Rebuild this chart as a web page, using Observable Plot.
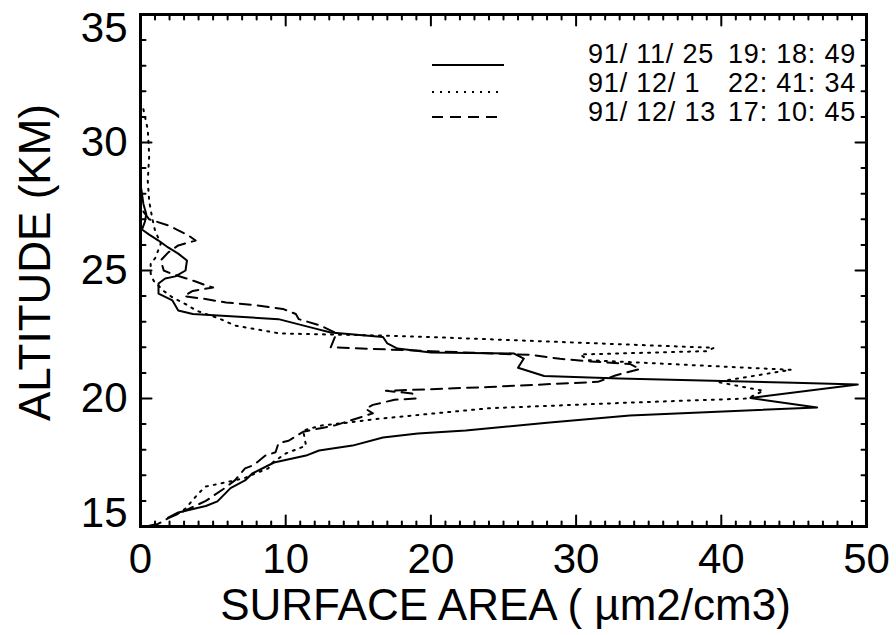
<!DOCTYPE html>
<html><head><meta charset="utf-8">
<script src="https://cdn.jsdelivr.net/npm/d3@7"></script>
<script src="https://cdn.jsdelivr.net/npm/@observablehq/plot@0.6"></script>
<style>body{margin:0;background:#fff;} svg{display:block}</style>
</head><body><div id="chart"></div>
<script>
// [surface area (µm2/cm3), altitude (km)], ordered from top to bottom of each profile
const profile_911125 = [[0.05,28.2],[0.2,27.6],[0.4,27.2],[0.3,26.9],[0.1,26.6],[0.6,26.4],[1.24,26.17],[1.9,25.9],[2.6,25.66],[3.2,25.39],[3.1,25.0],[2.4,24.77],[1.7,24.69],[1.24,24.49],[1.24,24.1],[2.2,23.83],[2.6,23.44],[3.6,23.3],[9.5,23.1],[12.05,22.73],[13.1,22.58],[16.7,22.4],[17.0,22.15],[17.7,21.95],[20.0,21.8],[25.7,21.76],[26.4,21.56],[26.0,21.2],[27.8,20.88],[33.0,20.78],[45.0,20.62],[49.4,20.55],[42.0,20.02],[46.6,19.65],[33.7,19.34],[28.0,19.05],[22.4,18.75],[19.1,18.63],[16.7,18.48],[14.6,18.16],[12.3,17.97],[11.4,17.77],[9.2,17.5],[7.7,17.07],[7.2,16.8],[6.2,16.5],[5.3,15.98],[4.5,15.8],[2.6,15.55],[1.9,15.35]];
const profile_911201 = [[0.2,31.3],[0.5,30.5],[0.6,29.5],[0.5,28.5],[0.6,27.7],[0.8,27.07],[1.0,26.56],[1.4,26.05],[1.0,25.47],[0.7,25.27],[0.7,24.88],[0.9,24.6],[1.6,24.2],[2.2,23.95],[3.3,23.63],[3.8,23.44],[5.4,23.13],[6.5,22.85],[8.4,22.66],[9.6,22.54],[16.5,22.46],[20.0,22.4],[39.5,21.98],[39.0,21.85],[30.3,21.72],[30.8,21.5],[44.8,21.12],[39.7,20.65],[42.9,20.3],[41.8,20.0],[33.7,19.84],[24.0,19.62],[16.2,19.2],[14.3,19.06],[12.5,18.95],[11.2,18.75],[11.4,18.16],[10.0,17.85],[9.1,17.5],[8.8,17.27],[7.9,17.07],[7.2,16.9],[6.5,16.8],[4.5,16.56],[4.0,16.3],[3.1,15.7],[2.2,15.35]];
const profile_911213 = [[0.2,27.3],[0.6,27.0],[1.9,26.76],[2.5,26.6],[3.3,26.37],[3.8,26.17],[2.6,25.98],[1.9,25.7],[1.4,25.4],[1.6,25.0],[2.1,24.88],[3.1,24.7],[3.8,24.57],[4.6,24.4],[5.0,24.34],[3.6,24.2],[3.0,24.0],[4.3,23.9],[5.9,23.75],[7.8,23.65],[9.8,23.5],[10.7,23.3],[10.9,23.1],[12.4,22.85],[13.5,22.55],[13.1,22.0],[14.5,21.97],[20.0,21.85],[27.0,21.7],[28.9,21.55],[31.0,21.45],[33.7,21.35],[34.4,21.15],[32.7,20.9],[31.5,20.65],[24.0,20.45],[16.9,20.3],[18.7,20.2],[19.0,20.0],[17.5,19.95],[16.0,19.75],[15.5,19.6],[16.0,19.42],[13.4,18.95],[12.5,18.85],[11.2,18.7],[10.2,18.35],[9.5,18.25],[9.3,17.9],[8.6,17.77],[7.8,17.4],[7.2,17.27],[6.5,16.8],[5.8,16.5],[4.5,16.0],[3.0,15.6],[2.0,15.35],[1.2,15.1],[0.5,15.02]];

const legendDates = ["91/ 11/ 25", "91/ 12/ 1", "91/ 12/ 13"];
const legendTimes = ["19: 18: 49", "22: 41: 34", "17: 10: 45"];
const xTicks = [0, 10, 20, 30, 40, 50];
const yTicks = [15, 20, 25, 30, 35];
const xMinor = d3.range(0, 51, 1);
const yMinor = d3.range(15, 36, 1);
const xTitle = "SURFACE AREA ( µm2/cm3)";
const yTitle = "ALTITUDE (KM)";

const dashes = [null, "2,6", "11,7"];
const FONT = "'Liberation Sans', Arial, Helvetica, sans-serif";
const px = d => d[0], py = d => d[1];

// inward tick marks (IDL style) drawn as vectors
const tickShape = {draw(context, l) { context.moveTo(0, 0); context.lineTo(0, -l); }};
const tickMarks = [];
const sides = [
  {ticks: xMinor, ch: "x", frameAnchor: "bottom", rotate: 0},
  {ticks: xMinor, ch: "x", frameAnchor: "top", rotate: 180},
  {ticks: yMinor, ch: "y", frameAnchor: "left", rotate: 90},
  {ticks: yMinor, ch: "y", frameAnchor: "right", rotate: 270}
];
for (const s of sides) {
  const major = s.ch === "x" ? xTicks : yTicks;
  tickMarks.push(Plot.vector(s.ticks, {[s.ch]: d => d, frameAnchor: s.frameAnchor, rotate: s.rotate,
    length: d => major.includes(d) ? 11 : 5, anchor: "start", shape: tickShape, stroke: "#000", strokeWidth: 2}));
}

const chart = Plot.plot({
  width: 896, height: 635,
  marginLeft: 140, marginRight: 30, marginTop: 14, marginBottom: 109,
  style: {fontFamily: FONT, background: "#fff", color: "#000", overflow: "visible"},
  x: {domain: [0, 50], axis: null},
  y: {domain: [15, 35], axis: null},
  length: {type: "identity"},
  marks: [
    Plot.line(profile_911125, {x: px, y: py, stroke: "#000", strokeWidth: 2}),
    Plot.line(profile_911201, {x: px, y: py, stroke: "#000", strokeWidth: 2, strokeDasharray: dashes[1]}),
    Plot.line(profile_911213, {x: px, y: py, stroke: "#000", strokeWidth: 2, strokeDasharray: dashes[2]}),
    ...tickMarks,
    Plot.text(xTicks, {x: d => d, text: d => String(d), frameAnchor: "bottom", dy: 17, lineAnchor: "top", textAnchor: "middle", fontSize: 42}),
    Plot.text(yTicks.filter(d => d > 15 && d < 35), {y: d => d, text: d => String(d), frameAnchor: "left", dx: -13, textAnchor: "end", fontSize: 42}),
    Plot.text(yTicks.filter(d => d === 35), {y: d => d, text: d => String(d), frameAnchor: "left", dx: -13, dy: 14, textAnchor: "end", fontSize: 42}),
    Plot.text(yTicks.filter(d => d === 15), {y: d => d, text: d => String(d), frameAnchor: "left", dx: -13, dy: -13, textAnchor: "end", fontSize: 42}),
    Plot.text([xTitle], {text: d => d, frameAnchor: "bottom", dx: 2, dy: 62, lineAnchor: "top", textAnchor: "middle", fontSize: 44}),
    Plot.text([yTitle], {text: d => d, frameAnchor: "left", dx: -122, dy: -8, lineAnchor: "top", textAnchor: "middle", rotate: -90, fontSize: 44, letterSpacing: 2.5}),
    Plot.frame({stroke: "#000", strokeWidth: 3})
  ]
});
document.getElementById("chart").appendChild(chart);

// legend inside the plot area
const svg = d3.select(chart);
const lg = svg.append("g").attr("font-family", FONT).attr("fill", "#000").attr("text-anchor", "start");
const swatchY = [65, 92, 117];
const textY = [63, 92, 121];
legendDates.forEach((d, i) => {
  lg.append("line").attr("x1", 432).attr("x2", 504).attr("y1", swatchY[i]).attr("y2", swatchY[i])
    .attr("stroke", "#000").attr("stroke-width", 2).attr("stroke-dasharray", dashes[i]);
  lg.append("text").attr("x", 588).attr("y", textY[i]).attr("font-size", 27).attr("letter-spacing", 0.8)
    .attr("text-anchor", "start").style("white-space", "pre").text(d);
  lg.append("text").attr("x", 728).attr("y", textY[i]).attr("font-size", 27).attr("letter-spacing", 0.8)
    .attr("text-anchor", "start").style("white-space", "pre").text(legendTimes[i]);
});
</script>
</body></html>
